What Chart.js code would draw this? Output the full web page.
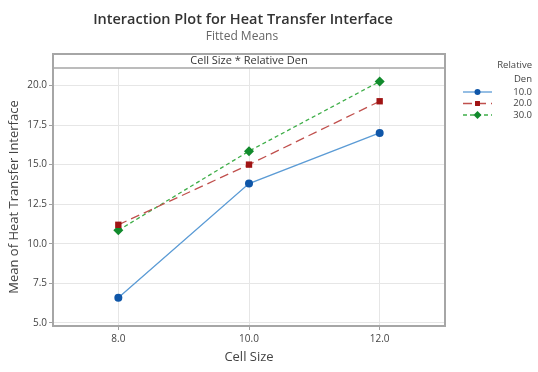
<!DOCTYPE html>
<html>
<head>
<meta charset="utf-8">
<script src="https://cdn.jsdelivr.net/npm/chart.js@4.4.1/dist/chart.umd.min.js"></script>
<style>
  html, body { margin: 0; padding: 0; background: #fff; }
  #wrap { width: 538px; height: 372px; }
</style>
</head>
<body>
<div id="wrap"><canvas id="interactionChart" width="538" height="372"></canvas></div>
<script>
// data
var cellSizes = [8, 10, 12];
var denLabels = ['10.0', '20.0', '30.0'];
var den10 = [6.6, 13.8, 17.0];
var den20 = [11.2, 15.0, 19.0];
var den30 = [10.85, 15.85, 20.25];
var xTicks = [8, 10, 12];
var yTicks = [5, 7.5, 10, 12.5, 15, 17.5, 20];

var FONT = '"Open Sans", "Noto Sans", sans-serif';

function toPoints(vals) {
    return cellSizes.map(function (x, i) { return { x: x, y: vals[i] }; });
}

var series = [
    { label: denLabels[0], values: den10, line: '#5b9bd5', mark: '#0f56a8', style: 'circle', r: 4, dash: [] },
    { label: denLabels[1], values: den20, line: '#c0504d', mark: '#a01414', style: 'rect', r: 4.5, dash: [9, 5] },
    { label: denLabels[2], values: den30, line: '#3fae49', mark: '#118a2c', style: 'rectRot', r: 5, dash: [4, 3] }
];

var datasets = series.map(function (s) {
    return {
        label: s.label,
        data: toPoints(s.values),
        borderColor: s.line,
        borderWidth: 1.3,
        borderDash: s.dash,
        backgroundColor: s.mark,
        pointBackgroundColor: s.mark,
        pointBorderColor: s.mark,
        pointStyle: s.style,
        pointRadius: s.r,
        pointBorderWidth: 0,
        tension: 0
    };
});

// titles, header strip, frame and legend
var decorations = {
    id: 'decorations',
    beforeDatasetsDraw: function (chart) {
        var ctx = chart.ctx, a = chart.chartArea;
        ctx.save();
        ctx.strokeStyle = '#a6a6a6';
        ctx.lineWidth = 2;
        ctx.strokeRect(a.left, a.top - 14, a.right - a.left, a.bottom - a.top + 14);
        ctx.lineWidth = 1.5;
        ctx.beginPath();
        ctx.moveTo(a.left, a.top);
        ctx.lineTo(a.right, a.top);
        ctx.stroke();
        ctx.restore();
    },
    afterDraw: function (chart) {
        var ctx = chart.ctx, a = chart.chartArea;
        ctx.save();
        ctx.textAlign = 'center';
        ctx.textBaseline = 'middle';
        ctx.fillStyle = '#333';
        ctx.font = '600 14.5px ' + FONT;
        ctx.fillText('Interaction Plot for Heat Transfer Interface', 243, 20);
        ctx.fillStyle = '#666';
        ctx.font = '12px ' + FONT;
        ctx.fillText('Fitted Means', 242, 37);
        ctx.fillStyle = '#333';
        ctx.font = '11px ' + FONT;
        ctx.fillText('Cell Size * Relative Den', (a.left + a.right) / 2, a.top - 7);

        // legend
        ctx.textAlign = 'right';
        ctx.font = '9.5px ' + FONT;
        ctx.fillStyle = '#444';
        ctx.fillText('Relative', 532, 65);
        ctx.fillText('Den', 532, 79);
        var ys = [92, 103.5, 115];
        chart.data.datasets.forEach(function (ds, i) {
            var y = ys[i];
            ctx.strokeStyle = ds.borderColor;
            ctx.lineWidth = 1.3;
            ctx.setLineDash(ds.borderDash);
            ctx.beginPath();
            ctx.moveTo(463, y);
            ctx.lineTo(492, y);
            ctx.stroke();
            ctx.setLineDash([]);
            ctx.fillStyle = ds.pointBackgroundColor;
            Chart.helpers.drawPoint(ctx, {
                pointStyle: ds.pointStyle,
                radius: ds.pointRadius - 1,
                borderWidth: 0,
                rotation: 0
            }, 477.5, y);
            ctx.fillStyle = '#444';
            ctx.fillText(ds.label, 532, y);
        });
        ctx.restore();
    }
};

var ctx = document.getElementById('interactionChart').getContext('2d');
var myChart = new Chart(ctx, {
    type: 'line',
    data: { datasets: datasets },
    options: {
        responsive: false,
        animation: false,
        layout: { padding: { top: 68, right: 93, left: 0, bottom: 0 } },
        plugins: {
            legend: { display: false },
            tooltip: { enabled: false }
        },
        scales: {
            x: {
                type: 'linear',
                min: 7,
                max: 13,
                afterBuildTicks: function (scale) {
                    scale.ticks = xTicks.map(function (v) { return { value: v }; });
                },
                afterFit: function (scale) { scale.height = 46; },
                ticks: {
                    callback: function (v) { return Number(v).toFixed(1); },
                    font: { family: FONT, size: 10 },
                    color: '#444',
                    padding: 3,
                    maxRotation: 0
                },
                grid: { color: '#e6e6e6', tickColor: '#a0a0a0', tickLength: 4, lineWidth: 1 },
                border: { display: false },
                title: {
                    display: true,
                    text: 'Cell Size',
                    font: { family: FONT, size: 13 },
                    color: '#444',
                    padding: { top: 0, bottom: 7 }
                }
            },
            y: {
                min: 4.81,
                max: 21.1,
                afterBuildTicks: function (scale) {
                    scale.ticks = yTicks.map(function (v) { return { value: v }; });
                },
                afterFit: function (scale) { scale.width = 53; },
                ticks: {
                    callback: function (v) { return Number(v).toFixed(1); },
                    font: { family: FONT, size: 10 },
                    color: '#444',
                    padding: 2
                },
                grid: { color: '#e6e6e6', tickColor: '#a0a0a0', tickLength: 4, lineWidth: 1 },
                border: { display: false },
                title: {
                    display: true,
                    text: 'Mean of Heat Transfer Interface',
                    font: { family: FONT, size: 13 },
                    color: '#444',
                    padding: { top: 6, bottom: 0 }
                }
            }
        }
    },
    plugins: [decorations]
});
</script>
</body>
</html>
